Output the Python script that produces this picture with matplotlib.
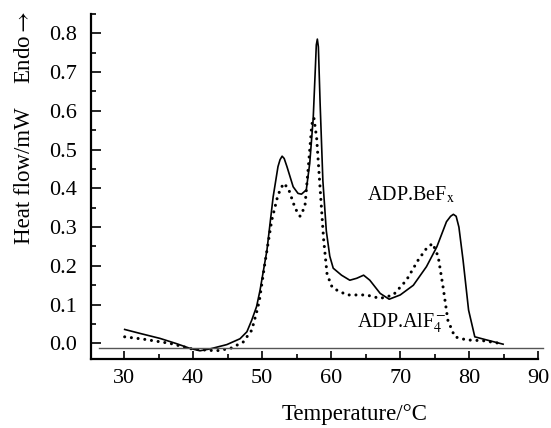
import matplotlib
matplotlib.use("Agg")
import matplotlib.pyplot as plt
from matplotlib.ticker import MultipleLocator

plt.rcParams["font.family"] = ["Liberation Serif", "DejaVu Serif"]
plt.rcParams["mathtext.fontset"] = "stix"

# ADP.BeFx (solid)
befx_t = [30.1, 32.5, 35.2, 37.5, 39.6, 41.0, 42.5, 44.9, 46.8, 47.8, 48.5, 49.2,
          49.7, 50.7, 51.6, 52.3, 52.6, 52.9, 53.2, 53.6, 54.5, 55.2, 55.7, 56.4,
          56.9, 57.4, 57.7, 57.85, 58.0, 58.15, 58.4, 58.8, 59.3, 59.8, 60.3, 61.5,
          62.7, 63.7, 64.7, 65.6, 67.1, 68.4, 70.0, 71.9, 73.8, 75.3, 76.7, 77.3,
          77.7, 78.1, 78.5, 79.1, 79.9, 80.8, 82.5, 84.9]
befx_q = [0.036, 0.025, 0.013, 0.000, -0.013, -0.019, -0.014, -0.003, 0.012, 0.030, 0.060, 0.095,
          0.137, 0.240, 0.378, 0.456, 0.474, 0.483, 0.477, 0.456, 0.404, 0.387, 0.385, 0.396,
          0.465, 0.580, 0.705, 0.770, 0.785, 0.765, 0.620, 0.420, 0.290, 0.225, 0.194, 0.176,
          0.163, 0.168, 0.176, 0.163, 0.129, 0.114, 0.125, 0.150, 0.198, 0.249, 0.314, 0.328,
          0.333, 0.328, 0.300, 0.215, 0.086, 0.017, 0.009, -0.002]

# ADP.AlF4- (dotted)
alf4_t = [30.1, 32.8, 36.7, 40.0, 43.4, 45.4, 47.3, 47.8, 48.5, 49.2, 49.6, 50.4,
          51.4, 52.3, 53.1, 53.8, 54.8, 55.5, 56.2, 56.7, 57.2, 57.5, 57.9, 58.4,
          58.9, 59.4, 60.0, 60.3, 62.3, 65.1, 67.1, 69.0, 70.9, 72.6, 73.8, 74.7,
          75.5, 76.2, 76.9, 77.9, 79.6, 82.0, 84.5]
alf4_q = [0.017, 0.011, 0.000, -0.015, -0.019, -0.013, 0.004, 0.017, 0.034, 0.080, 0.110, 0.206,
          0.318, 0.383, 0.413, 0.400, 0.348, 0.328, 0.353, 0.456, 0.565, 0.582, 0.530, 0.400,
          0.270, 0.180, 0.150, 0.142, 0.125, 0.125, 0.116, 0.125, 0.163, 0.215, 0.245, 0.258,
          0.224, 0.146, 0.060, 0.017, 0.009, 0.007, 0.000]

fig = plt.figure(figsize=(5.51, 4.28), dpi=100)
ax = fig.add_axes([0.1646, 0.1605, 0.8124, 0.807])

ax.plot(befx_t, befx_q, color="black", lw=1.2)
ax.plot(alf4_t, alf4_q, color="black", lw=2.2, linestyle=(0, (0.01, 2.2)),
        dash_capstyle="round")
ax.plot([26.4, 90.7], [-0.011, -0.011], color="#555555", lw=1.0, clip_on=False)

ax.text(71.6, 0.383, r"ADP.BeF$_\mathrm{x}$", fontsize=14.5, ha="center", va="center")
ax.text(70.2, 0.052, r"ADP.AlF$_4^-$", fontsize=14.5, ha="center", va="center")

ax.set_xlim(25.18, 90)
ax.set_ylim(-0.041, 0.85)
ax.set_xticks([30, 40, 50, 60, 70, 80, 90])
ax.set_yticks([0.0, 0.1, 0.2, 0.3, 0.4, 0.5, 0.6, 0.7, 0.8])
ax.xaxis.set_minor_locator(MultipleLocator(5))
ax.yaxis.set_minor_locator(MultipleLocator(0.05))
ax.spines["top"].set_visible(False)
ax.spines["right"].set_visible(False)
for s in ["left", "bottom"]:
    ax.spines[s].set_linewidth(1.6)
ax.tick_params(axis="y", which="major", direction="in", length=7.2, width=1.2, pad=10, labelsize=16)
ax.tick_params(axis="y", which="minor", direction="in", length=3.6, width=1.2)
ax.tick_params(axis="x", which="major", direction="in", length=5.5, width=1.2, pad=7, labelsize=16)
ax.tick_params(axis="x", which="minor", direction="in", length=3.5, width=1.2)

fig.text(0.045, 1 - 176 / 428, "Heat flow/mW", rotation=90, fontsize=16.5, ha="center", va="center")
fig.text(0.045, 1 - 47 / 428, r"Endo$\rightarrow$", rotation=90, fontsize=16.5, ha="center", va="center")
fig.text(355 / 551, 0.008, "Temperature/\u00b0C", fontsize=16.5, ha="center", va="bottom")

fig.savefig("out.png", dpi=100)
